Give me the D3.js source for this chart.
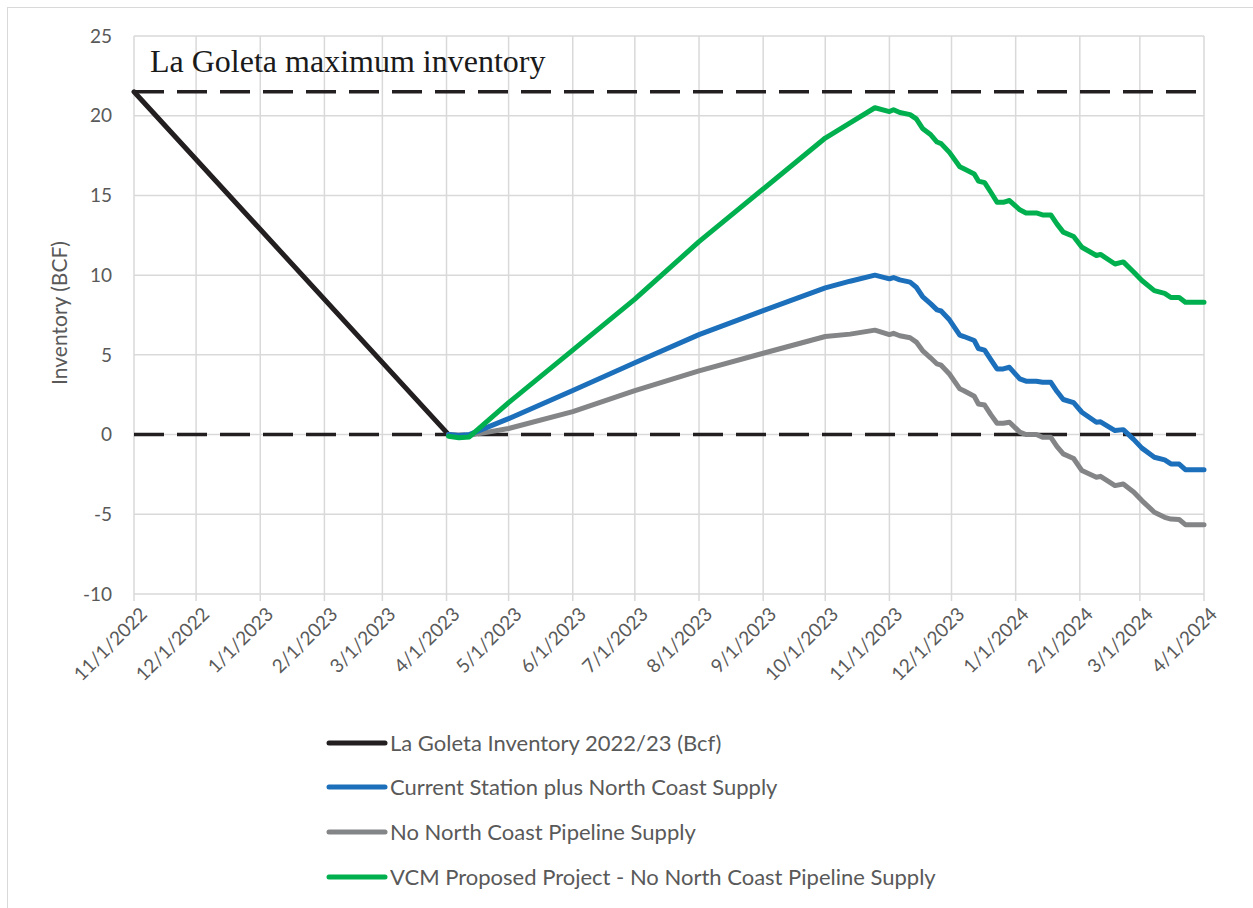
<!DOCTYPE html>
<html><head><meta charset="utf-8">
<script src="https://cdn.jsdelivr.net/npm/d3@7"></script>
<style>body{margin:0;background:#fff}</style>
</head><body>
<svg id="c" width="1253" height="908"></svg>
<script>
const yTicks = [-10,-5,0,5,10,15,20,25];
const xTickLabels = ["11/1/2022","12/1/2022","1/1/2023","2/1/2023","3/1/2023","4/1/2023","5/1/2023","6/1/2023","7/1/2023","8/1/2023","9/1/2023","10/1/2023","11/1/2023","12/1/2023","1/1/2024","2/1/2024","3/1/2024","4/1/2024"];
const maxInventory = 21.5;
const zeroLevel = 0;
const titleText = "La Goleta maximum inventory";
const seriesNames = ["La Goleta Inventory 2022/23 (Bcf)","Current Station plus North Coast Supply","No North Coast Pipeline Supply","VCM Proposed Project - No North Coast Pipeline Supply"];
const seriesColors = ["#231f20","#1c6fba","#848587","#00b04f"];

const blackDates = ["2022-11-01","2023-04-02"];
const blackValues = [21.5, 0];

const dates = ["2023-04-02","2023-04-07","2023-04-12","2023-05-01","2023-06-01","2023-07-01","2023-08-01","2023-09-01","2023-10-01","2023-10-13","2023-10-25",
"2023-11-01","2023-11-03","2023-11-06","2023-11-11","2023-11-14","2023-11-17","2023-11-21","2023-11-24","2023-11-26","2023-11-30",
"2023-12-05","2023-12-07","2023-12-12","2023-12-14","2023-12-17","2023-12-20","2023-12-23","2023-12-26","2023-12-29",
"2024-01-03","2024-01-06","2024-01-11","2024-01-14","2024-01-18","2024-01-21","2024-01-24","2024-01-29",
"2024-02-02","2024-02-09","2024-02-11","2024-02-18","2024-02-22","2024-02-27",
"2024-03-02","2024-03-08","2024-03-13","2024-03-16","2024-03-20","2024-03-23","2024-04-01"];

const greenValues = [-0.1,-0.2,-0.15,2.0,5.3,8.5,12.1,15.4,18.6,19.55,20.5,
20.26,20.37,20.2,20.07,19.8,19.2,18.8,18.35,18.25,17.7,
16.8,16.67,16.35,15.9,15.8,15.2,14.57,14.57,14.68,
14.1,13.9,13.9,13.78,13.78,13.2,12.7,12.42,
11.75,11.23,11.3,10.7,10.83,10.2,
9.66,9.03,8.86,8.6,8.6,8.3,8.3];

const blueValues = [0,-0.05,0.0,1.0,2.76,4.5,6.27,7.78,9.2,9.62,10.0,
9.77,9.85,9.7,9.56,9.24,8.66,8.2,7.82,7.75,7.2,
6.24,6.15,5.9,5.4,5.3,4.7,4.12,4.12,4.22,
3.49,3.35,3.34,3.28,3.28,2.7,2.2,2.0,
1.4,0.77,0.8,0.25,0.31,-0.3,
-0.85,-1.42,-1.59,-1.84,-1.85,-2.2,-2.2];

const grayValues = [0,-0.05,-0.05,0.38,1.44,2.76,4.0,5.1,6.15,6.3,6.55,
6.27,6.35,6.2,6.07,5.8,5.27,4.8,4.43,4.35,3.8,
2.87,2.75,2.4,1.92,1.85,1.25,0.71,0.71,0.77,
0.15,0.0,0.0,-0.17,-0.17,-0.75,-1.21,-1.5,
-2.26,-2.68,-2.62,-3.2,-3.1,-3.6,
-4.14,-4.87,-5.19,-5.3,-5.33,-5.65,-5.65];

const svg = d3.select("#c");
const W = 1253, H = 908;
const m = {left:134, right:1204, top:36, bottom:594};
const parse = d3.timeParse("%Y-%m-%d");
const x = d3.scaleTime().domain([parse("2022-11-01"), parse("2024-04-01")]).range([m.left, m.right]);
const y = d3.scaleLinear().domain([-10,25]).range([m.bottom, m.top]);

svg.append("rect").attr("x",7.5).attr("y",7.5).attr("width",W).attr("height",H).attr("fill","#fff").attr("stroke","#d9d9d9").attr("stroke-width",1);

const tickDates = d3.timeMonth.range(parse("2022-11-01"), d3.timeDay.offset(parse("2024-04-01"),1));
const grid = "#d9d9d9";
svg.append("g").selectAll("line").data(yTicks).join("line")
  .attr("x1",m.left).attr("x2",m.right).attr("y1",d=>y(d)).attr("y2",d=>y(d))
  .attr("stroke",grid).attr("stroke-width",1.5);
svg.append("g").selectAll("line").data(tickDates).join("line")
  .attr("x1",d=>x(d)).attr("x2",d=>x(d)).attr("y1",m.top).attr("y2",m.bottom+7)
  .attr("stroke",grid).attr("stroke-width",1.5);

const sans = "Lato, 'Open Sans', sans-serif";
svg.append("g").selectAll("text").data(yTicks).join("text")
  .attr("x",m.left-22).attr("y",d=>y(d)).attr("dy","0.35em").attr("text-anchor","end")
  .attr("font-family",sans).attr("font-size",19).attr("fill","#595959")
  .text(d=>d);

svg.append("g").selectAll("text").data(tickDates).join("text")
  .attr("transform",(d)=>`translate(${x(d)+5},${m.bottom+12}) rotate(-45)`)
  .attr("text-anchor","end").attr("dy","0.7em")
  .attr("font-family",sans).attr("font-size",19).attr("fill","#595959")
  .text((d,i)=>xTickLabels[i]);

svg.append("text").attr("transform",`translate(67,${(m.top+m.bottom)/2 - 2}) rotate(-90)`)
  .attr("text-anchor","middle").attr("font-family",sans).attr("font-size",21).attr("fill","#595959")
  .text("Inventory (BCF)");

svg.append("g").selectAll("line").data([maxInventory, zeroLevel]).join("line")
  .attr("x1",m.left).attr("x2",m.right).attr("y1",d=>y(d)).attr("y2",d=>y(d))
  .attr("stroke","#231f20").attr("stroke-width",3.5).attr("stroke-dasharray","30,13");

svg.append("text").attr("x",150).attr("y",72).attr("font-family","'Liberation Serif','Times New Roman',serif")
  .attr("font-size",32).attr("fill","#1a1a1a").text(titleText);

const line = d3.line().x(d=>x(d[0])).y(d=>y(d[1])).curve(d3.curveLinear);
const seriesData = [
  blackDates.map((d,i)=>[parse(d), blackValues[i]]),
  dates.map((d,i)=>[parse(d), blueValues[i]]),
  dates.map((d,i)=>[parse(d), grayValues[i]]),
  dates.map((d,i)=>[parse(d), greenValues[i]])
];
[0,2,1,3].forEach(i=>{
  svg.append("path").datum(seriesData[i]).attr("d",line).attr("fill","none")
    .attr("stroke",seriesColors[i]).attr("stroke-width",5).attr("stroke-linejoin","round").attr("stroke-linecap","round");
});

const lg = svg.append("g");
const legendY = [743,787,832,877];
seriesNames.forEach((n,i)=>{
  lg.append("line").attr("x1",329).attr("x2",385).attr("y1",legendY[i]).attr("y2",legendY[i])
    .attr("stroke",seriesColors[i]).attr("stroke-width",5).attr("stroke-linecap","round");
  lg.append("text").attr("x",390).attr("y",legendY[i]).attr("dy","0.35em")
    .attr("font-family",sans).attr("font-size",22).attr("fill","#595959").text(n);
});
</script>
</body></html>
